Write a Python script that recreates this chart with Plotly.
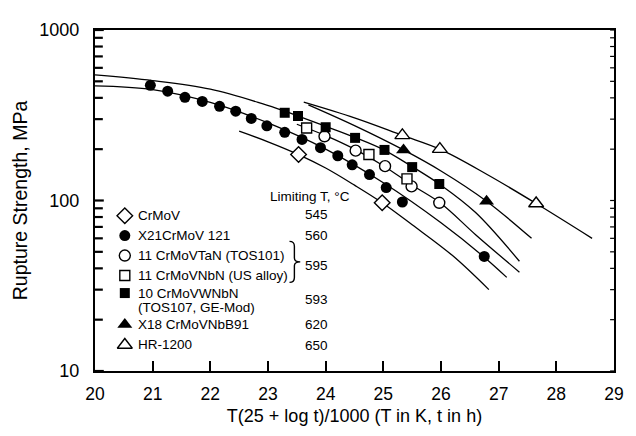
import plotly.graph_objects as go

# ---------------- data ----------------
crmov_x = [23.53, 24.98]
crmov_y = [186, 97]

x21_x = [20.96, 21.26, 21.56, 21.86, 22.16, 22.44, 22.71, 22.98, 23.29, 23.59,
         23.91, 24.21, 24.46, 24.76, 25.05, 25.33, 26.75]
x21_y = [474, 438, 403, 381, 357, 334, 303, 274, 251, 228,
         204, 183, 162, 142, 119, 98, 47]

tos101_x = [23.98, 24.52, 25.03, 25.49, 25.97]
tos101_y = [238, 196, 159, 121, 97]

us_x = [23.67, 24.75, 25.41]
us_y = [266, 186, 134]

tos107_x = [23.29, 23.52, 24.0, 24.51, 25.02, 25.5, 25.97]
tos107_y = [327, 313, 269, 233, 198, 157, 125]

x18_x = [25.35, 26.79]
x18_y = [198, 99]

hr_x = [25.33, 25.98, 27.65]
hr_y = [241, 200, 96]

# master curves
cur_crmov_x = [22.5, 23.0, 23.53, 24.0, 24.5, 24.98, 25.5, 26.2, 26.83]
cur_crmov_y = [255, 221, 186, 155, 123, 97, 72, 47.5, 30]
cur_x21_x = [20.0, 21.0, 22.0, 23.0, 24.0, 25.0, 26.0, 26.75, 27.14]
cur_x21_y = [470, 447, 376, 285, 200, 127, 74, 46.5, 35.4]
cur_11cr_x = [23.5, 24.0, 24.5, 25.0, 25.5, 26.0, 26.6, 27.36]
cur_11cr_y = [280, 240, 200, 160, 123, 96, 63, 38]
cur_tos107_x = [20.0, 21.0, 22.0, 22.9, 23.3, 24.0, 24.5, 25.0, 25.5, 26.0, 26.6, 27.36]
cur_tos107_y = [545, 505, 450, 370, 333, 272, 235, 199, 158, 123, 85, 44]
cur_x18_x = [23.7, 24.5, 25.35, 26.0, 26.79, 27.57]
cur_x18_y = [364, 275, 198, 149, 99, 60]
cur_hr_x = [23.62, 24.5, 25.33, 25.98, 26.8, 27.65, 28.62]
cur_hr_y = [377, 305, 241, 200, 142, 96, 60]

x_ticks = [20, 21, 22, 23, 24, 25, 26, 27, 28, 29]
y_major = [10, 100, 1000]
y_ticktext = ["10", "100", "1000"]
y_minor = [20, 30, 40, 50, 60, 70, 80, 90, 200, 300, 400, 500, 600, 700, 800, 900]

legend_names = ["CrMoV", "X21CrMoV 121", "11 CrMoVTaN (TOS101)",
                "11 CrMoVNbN (US alloy)", "10 CrMoVWNbN", "X18 CrMoVNbB91", "HR-1200"]
legend_sub = "(TOS107, GE-Mod)"
limit_T = ["545", "560", "595", "593", "620", "650"]

# ---------------- geometry / styling ----------------
FONT = "Liberation Sans, Arial, Helvetica, sans-serif"
BLK = "black"
OFF = 8                                   # page body margin seen in the screenshot
PX_L, PX_R, PX_T, PX_B = 90, 621, 21, 371  # plot area in screen pixels
W, H = 636 - OFF, 436 - OFF
L, R, T, B = PX_L - OFF, W - (PX_R - OFF), PX_T - OFF, H - (PX_B - OFF)
XR = [20, 29]
YR = [1, 3]


def px_paper_x(px):
    return (px - PX_L) / (PX_R - PX_L)


def px_paper_y(py):
    return (PX_B - py) / (PX_B - PX_T)


def px_data_x(px):
    return XR[0] + px_paper_x(px) * (XR[1] - XR[0])


def px_data_y(py):
    return 10 ** (YR[0] + px_paper_y(py) * (YR[1] - YR[0]))


styles = {
    "crmov": dict(symbol="diamond", size=12, color="white", line=dict(color=BLK, width=1.4)),
    "x21": dict(symbol="circle", size=11, color=BLK, line=dict(color=BLK, width=0)),
    "tos101": dict(symbol="circle", size=11, color="white", line=dict(color=BLK, width=1.4)),
    "us": dict(symbol="square", size=10, color="white", line=dict(color=BLK, width=1.4)),
    "tos107": dict(symbol="square", size=10, color=BLK, line=dict(color=BLK, width=0)),
    "x18": dict(symbol="triangle-up", size=13, color=BLK, line=dict(color=BLK, width=0)),
    "hr": dict(symbol="triangle-up", size=13, color="white", line=dict(color=BLK, width=1.4)),
}

fig = go.Figure()

curves = [(cur_crmov_x, cur_crmov_y), (cur_x21_x, cur_x21_y), (cur_11cr_x, cur_11cr_y),
          (cur_tos107_x, cur_tos107_y), (cur_x18_x, cur_x18_y), (cur_hr_x, cur_hr_y)]
for cx, cy in curves:
    fig.add_trace(go.Scatter(x=cx, y=cy, mode="lines",
                             line=dict(color=BLK, width=1.3, shape="spline", smoothing=1.0),
                             showlegend=False, hoverinfo="skip"))

series = [("crmov", crmov_x, crmov_y), ("x21", x21_x, x21_y), ("tos101", tos101_x, tos101_y),
          ("us", us_x, us_y), ("tos107", tos107_x, tos107_y), ("x18", x18_x, x18_y),
          ("hr", hr_x, hr_y)]
for key, sx, sy in series:
    fig.add_trace(go.Scatter(x=sx, y=sy, mode="markers", marker=styles[key],
                             showlegend=False))

# ---------------- in-plot legend (layout positions in screen pixels) ----------------
key_px = 120.5
text_px = 131.5
row_py = [211.7, 232.0, 252.5, 273.0, 291.0, 323.3, 344.3]
order = ["crmov", "x21", "tos101", "us", "tos107", "x18", "hr"]
for k, py in zip(order, row_py):
    fig.add_trace(go.Scatter(x=[px_data_x(key_px)], y=[px_data_y(py)], mode="markers",
                             marker=styles[k], showlegend=False, hoverinfo="skip"))

ann = []
LF = dict(family=FONT, size=13.5, color=BLK)


def note(px, py, text, anchor="left"):
    ann.append(dict(x=px_paper_x(px), y=px_paper_y(py), xref="paper", yref="paper",
                    text=text, showarrow=False, xanchor=anchor, yanchor="middle", font=LF))


for name, py in zip(legend_names, row_py):
    note(text_px, py, name)
note(text_px, 305.5, legend_sub)
note(310, 192, "Limiting T, °C", "center")
for val, py in zip(limit_T, [210.5, 231.5, 263.0, 298.0, 323.5, 344.5]):
    note(317, py, val, "center")

bx0, bx1, bx2 = px_paper_x(289), px_paper_x(294), px_paper_x(300)
by = [px_paper_y(v) for v in (238, 243, 255, 259, 263, 275, 280)]
brace = (f"M {bx0},{by[0]} Q {bx1},{by[0]} {bx1},{by[1]} L {bx1},{by[2]} "
         f"Q {bx1},{by[3]} {bx2},{by[3]} Q {bx1},{by[3]} {bx1},{by[4]} "
         f"L {bx1},{by[5]} Q {bx1},{by[6]} {bx0},{by[6]}")
shapes = [dict(type="path", path=brace, xref="paper", yref="paper",
               line=dict(color=BLK, width=1.4))]

# y-axis tick marks drawn as axis-decoration lines (inside, left; short on right)
plot_w = PX_R - PX_L
for v in y_major + y_minor:
    ln = 9 if v in y_major else 8
    shapes.append(dict(type="line", xref="paper", yref="y", x0=0, x1=ln / plot_w,
                       y0=v, y1=v, line=dict(color=BLK, width=2.2)))
    shapes.append(dict(type="line", xref="paper", yref="y", x0=1, x1=1 - 4 / plot_w,
                       y0=v, y1=v, line=dict(color=BLK, width=1.2)))

fig.update_layout(
    width=W, height=H,
    margin=dict(l=L, r=R, t=T, b=B),
    paper_bgcolor="white", plot_bgcolor="white",
    font=dict(family=FONT, color=BLK),
    annotations=ann, shapes=shapes,
    xaxis=dict(range=XR, tickvals=x_ticks, ticks="inside", ticklen=10, tickwidth=2,
               tickcolor=BLK, showline=True, linewidth=2, linecolor=BLK, mirror=True,
               showgrid=False, zeroline=False, tickfont=dict(size=17.5, family=FONT),
               ticklabelstandoff=6, ticklabeloverflow="allow",
               title=dict(text="T(25 + log t)/1000 (T in K, t in h)",
                          font=dict(size=18, family=FONT), standoff=6)),
    yaxis=dict(type="log", range=YR, tickvals=y_major, ticktext=y_ticktext,
               ticks="", showline=True, linewidth=2.2, linecolor=BLK, mirror=True,
               showgrid=False, zeroline=False, tickfont=dict(size=18, family=FONT),
               ticklabelstandoff=10,
               title=dict(text="Rupture Strength, MPa", font=dict(size=19.5, family=FONT),
                          standoff=6)),
    showlegend=False,
)

fig.write_html("out.html")
